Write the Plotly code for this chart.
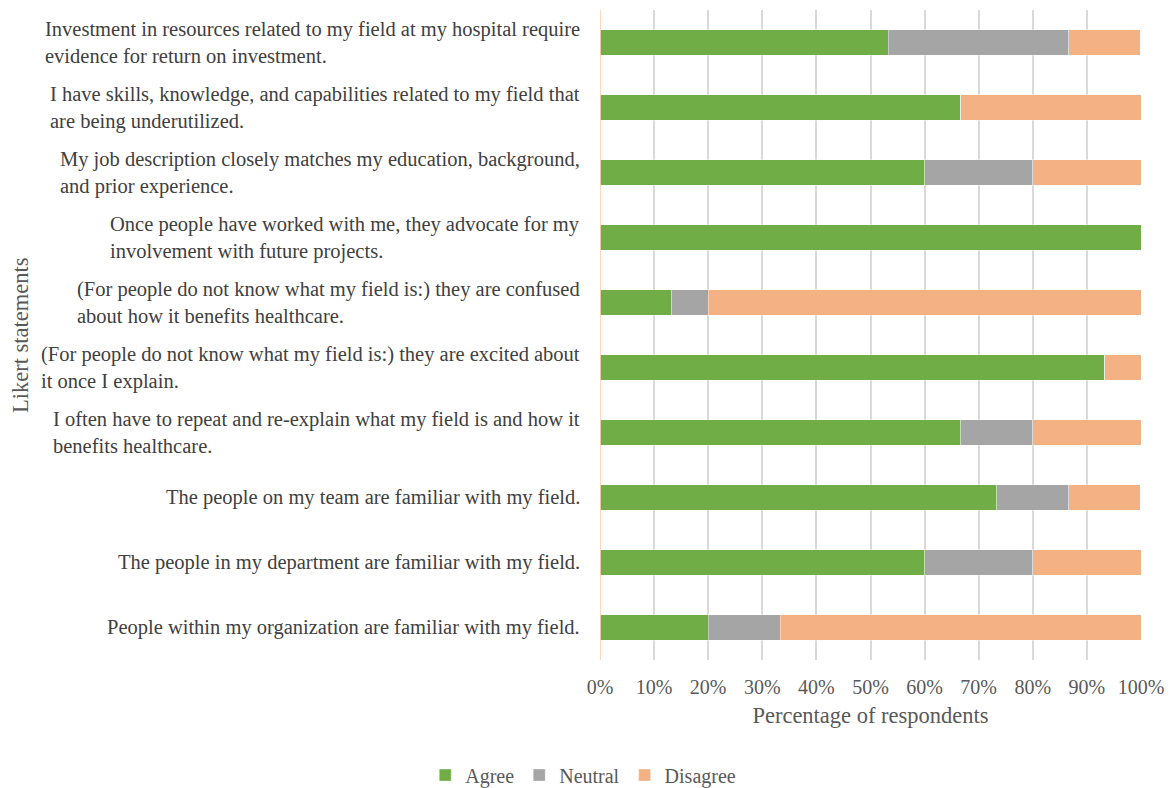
import plotly.graph_objects as go

# Likert statements, listed bottom to top as drawn on the y axis
statements = [
    "People within my organization are familiar with my field.",
    "The people in my department are familiar with my field.",
    "The people on my team are familiar with my field.",
    "I often have to repeat and re-explain what my field is and how it<br>benefits healthcare.",
    "(For people do not know what my field is:) they are excited about<br>it once I explain.",
    "(For people do not know what my field is:) they are confused<br>about how it benefits healthcare.",
    "Once people have worked with me, they advocate for my<br>involvement with future projects.",
    "My job description closely matches my education, background,<br>and prior experience.",
    "I have skills, knowledge, and capabilities related to my field that<br>are being underutilized.",
    "Investment in resources related to my field at my hospital require<br>evidence for return on investment.",
]

agree = [0.200, 0.600, 0.733, 0.667, 0.933, 0.133, 1.000, 0.600, 0.667, 0.533]
neutral = [0.133, 0.200, 0.133, 0.133, 0.000, 0.067, 0.000, 0.200, 0.000, 0.333]
disagree = [0.667, 0.200, 0.133, 0.200, 0.067, 0.800, 0.000, 0.200, 0.333, 0.133]

series = [
    ("Agree", agree, "#70AD47"),
    ("Neutral", neutral, "#A5A5A5"),
    ("Disagree", disagree, "#F4B183"),
]

FONT = "'Liberation Serif', 'DejaVu Serif', serif"
TEXT = "#595959"

fig = go.Figure()
for name, vals, color in series:
    fig.add_trace(go.Bar(
        y=list(range(len(statements))), x=vals, name=name, orientation="h",
        marker=dict(color=color, line=dict(color="rgba(255,255,255,0.6)", width=0.6)),
        width=0.385,
    ))

# Category labels: right-aligned to the axis, lines left-aligned within each block
for i, s in enumerate(statements):
    fig.add_annotation(
        x=0, y=i, xref="paper", yref="y", text=s, showarrow=False,
        xanchor="right", yanchor="middle", align="left", xshift=-18,
        font=dict(family=FONT, size=20.5, color="#404040"),
    )

fig.add_annotation(
    x=-1.072, y=0.5, xref="paper", yref="paper", text="Likert statements",
    textangle=-90, showarrow=False, xanchor="center", yanchor="middle",
    font=dict(family=FONT, size=22.5, color=TEXT),
)

fig.update_layout(
    width=1171, height=788,
    margin=dict(l=600, r=30, t=10, b=128, autoexpand=False),
    plot_bgcolor="white", paper_bgcolor="white",
    barmode="stack", bargap=0.6,
    font=dict(family=FONT, color=TEXT),
    xaxis=dict(
        range=[0, 1], tickformat=".0%", dtick=0.1,
        showgrid=True, gridcolor="#D9D9D9", gridwidth=1.5,
        zeroline=False, showline=False, ticks="", automargin=False,
        ticklabelstandoff=13,
        tickfont=dict(family=FONT, size=20, color=TEXT),
        title=dict(text="Percentage of respondents", standoff=10,
                   font=dict(family=FONT, size=22.5, color=TEXT)),
    ),
    yaxis=dict(
        range=[-0.5, len(statements) - 0.5], showticklabels=False,
        showgrid=False, zeroline=False, showline=False, ticks="", automargin=False,
    ),
    legend=dict(
        orientation="h", x=-0.031, xanchor="center", y=-0.177, yanchor="middle",
        font=dict(family=FONT, size=20, color=TEXT), traceorder="normal",
        itemwidth=30,
    ),
    showlegend=True,
)

# Vertical axis line at 0%
fig.add_shape(type="line", xref="x", yref="paper", x0=0, x1=0, y0=0, y1=1,
              line=dict(color="#F8CBAD", width=1.5))

fig.write_html("out.html")
